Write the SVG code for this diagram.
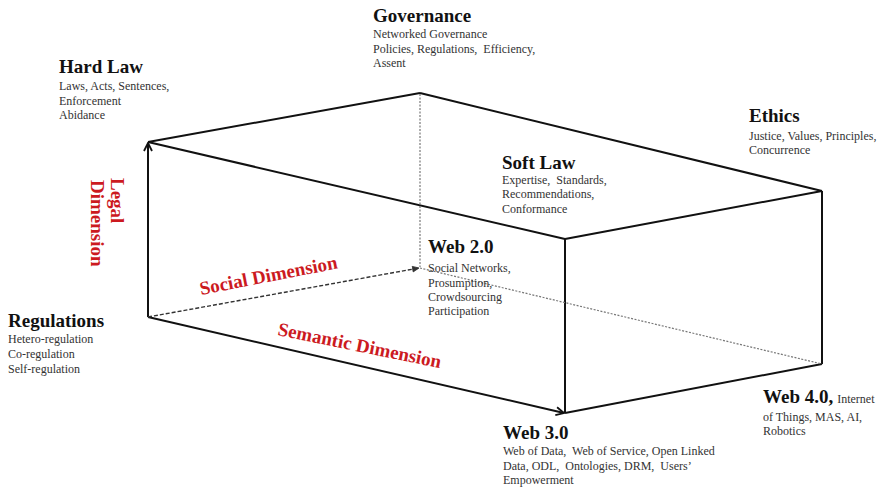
<svg xmlns="http://www.w3.org/2000/svg" width="884" height="491" viewBox="0 0 884 491">
<defs>
<style>
.h{font-family:"Liberation Serif","Times New Roman",serif;font-weight:bold;font-size:19px;fill:#111}
.s{font-family:"Liberation Serif","Times New Roman",serif;font-size:12px;fill:#333}
.r{font-family:"Liberation Serif","Times New Roman",serif;font-weight:bold;font-size:19px;fill:#cc1a1f}
.e{stroke:#111;stroke-width:2;fill:none}
.d{stroke:#333;stroke-width:1.4;fill:none;stroke-dasharray:4 2}
.dt{stroke:#777;stroke-width:1.2;fill:none;stroke-dasharray:2 1.5}
</style>
<marker id="open" viewBox="0 0 10 10" refX="9" refY="5" markerWidth="10" markerHeight="10" markerUnits="userSpaceOnUse" orient="auto">
<path d="M1,1 L9,5 L1,9" fill="none" stroke="#111" stroke-width="1.8"/>
</marker>
<marker id="small" viewBox="0 0 10 10" refX="9" refY="5" markerWidth="8" markerHeight="8" markerUnits="userSpaceOnUse" orient="auto">
<path d="M1,1.5 L9,5 L1,8.5 Z" fill="#333" stroke="#333" stroke-width="1"/>
</marker>
</defs>
<rect width="884" height="491" fill="#fff"/>
<g id="connectors">
<line class="e" x1="148" y1="142" x2="420" y2="93"/>
<line class="e" x1="420" y1="93" x2="822" y2="191"/>
<line class="e" x1="148" y1="142" x2="565" y2="239"/>
<line class="e" x1="565" y1="239" x2="822" y2="191"/>
<line class="e" x1="565" y1="239" x2="565" y2="413"/>
<line class="e" x1="822" y1="191" x2="822" y2="364"/>
<line class="e" x1="565" y1="413" x2="822" y2="364"/>
<line class="e" x1="148" y1="317" x2="148" y2="143" marker-end="url(#open)"/>
<line class="e" x1="148" y1="317" x2="564" y2="413" marker-end="url(#open)"/>
<line class="d" x1="148" y1="317" x2="419" y2="268" marker-end="url(#small)"/>
<line class="dt" x1="420" y1="94" x2="420" y2="267"/>
<line class="dt" x1="420" y1="268" x2="822" y2="364"/>
</g>
<g id="hard-law">
<text class="h" x="59" y="73">Hard Law</text>
<text class="s" x="59" y="90">Laws, Acts, Sentences,</text>
<text class="s" x="59" y="104.5">Enforcement</text>
<text class="s" x="59" y="119">Abidance</text>
</g>
<g id="governance">
<text class="h" x="373" y="22">Governance</text>
<text class="s" x="373" y="37.5">Networked Governance</text>
<text class="s" x="373" y="52.5" xml:space="preserve">Policies, Regulations,  Efficiency,</text>
<text class="s" x="373" y="67">Assent</text>
</g>
<g id="ethics">
<text class="h" x="749" y="122">Ethics</text>
<text class="s" x="749" y="140">Justice, Values, Principles,</text>
<text class="s" x="749" y="154">Concurrence</text>
</g>
<g id="soft-law">
<text class="h" x="502" y="169">Soft Law</text>
<text class="s" x="502" y="183.5" xml:space="preserve">Expertise,  Standards,</text>
<text class="s" x="502" y="198">Recommendations,</text>
<text class="s" x="502" y="212.5">Conformance</text>
</g>
<g id="web-2">
<text class="h" x="428" y="253">Web 2.0</text>
<text class="s" x="428" y="271.5">Social Networks,</text>
<text class="s" x="428" y="286.5">Prosumption,</text>
<text class="s" x="428" y="301">Crowdsourcing</text>
<text class="s" x="428" y="315">Participation</text>
</g>
<g id="regulations">
<text class="h" x="8" y="326.5">Regulations</text>
<text class="s" x="8" y="343">Hetero-regulation</text>
<text class="s" x="8" y="358">Co-regulation</text>
<text class="s" x="8" y="372.5">Self-regulation</text>
</g>
<g id="web-3">
<text class="h" x="503" y="439">Web 3.0</text>
<text class="s" x="503" y="455" xml:space="preserve">Web of Data,  Web of Service, Open Linked</text>
<text class="s" x="503" y="470" xml:space="preserve">Data, ODL,  Ontologies, DRM,  Users’</text>
<text class="s" x="503" y="484">Empowerment</text>
</g>
<g id="web-4">
<text class="h" x="763" y="403">Web 4.0,<tspan class="s" style="font-weight:normal" dx="4">Internet</tspan></text>
<text class="s" x="763" y="420.5">of Things, MAS, AI,</text>
<text class="s" x="763" y="435">Robotics</text>
</g>
<g id="dimension-labels">
<text class="r" transform="translate(111,178) rotate(90)">Legal</text>
<text class="r" transform="translate(91,180) rotate(90)">Dimension</text>
<text class="r" transform="translate(201,295) rotate(-11)">Social Dimension</text>
<text class="r" transform="translate(277,335) rotate(11.5)">Semantic Dimension</text>
</g>
</svg>
